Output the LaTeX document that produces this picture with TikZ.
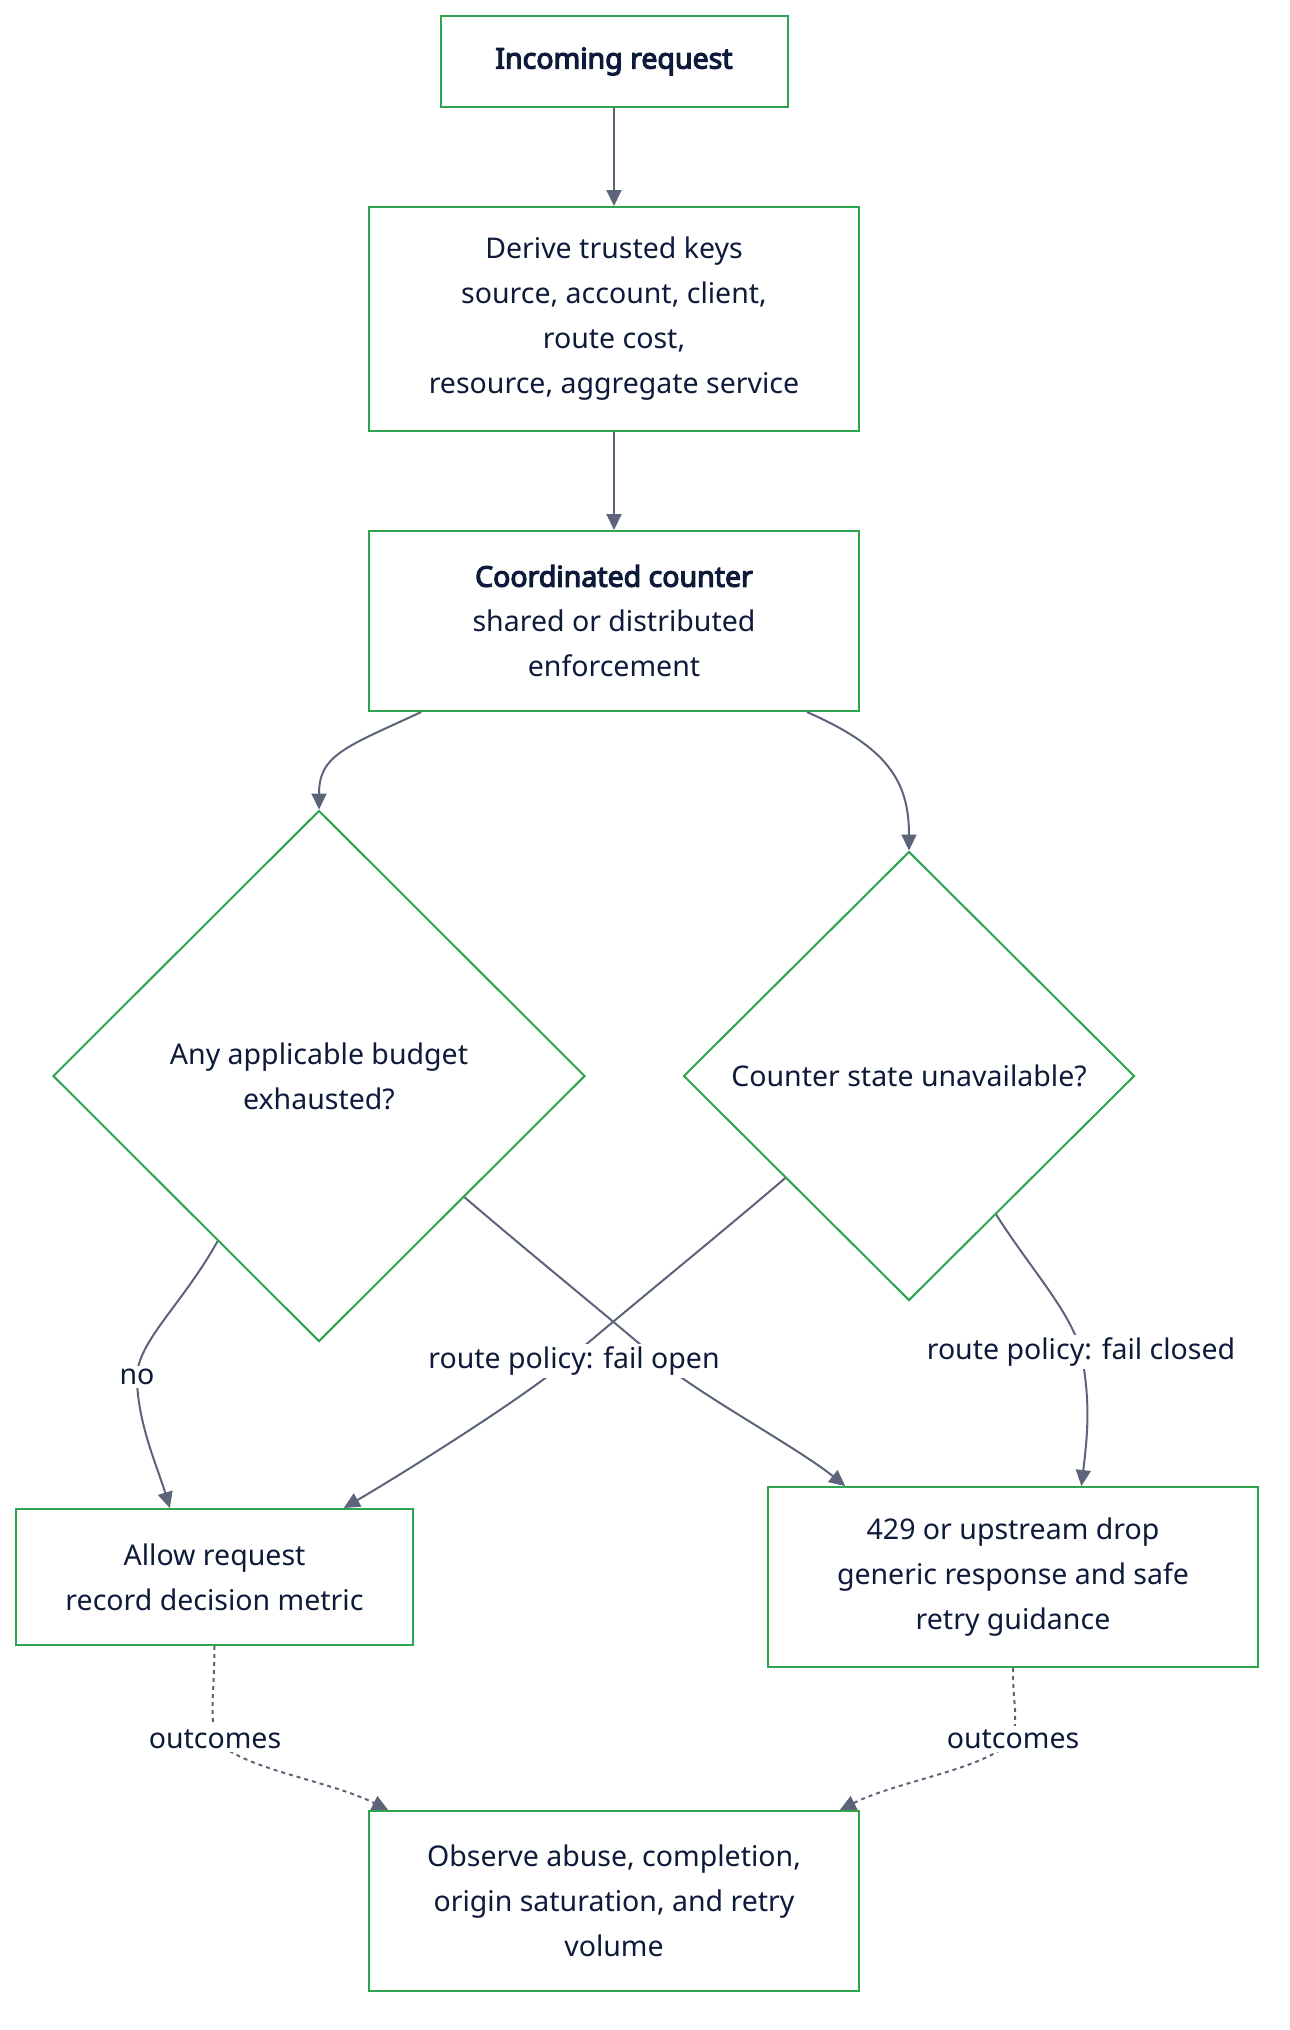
\documentclass[tikz,border=0pt]{standalone}
\usepackage{fontspec}
\setmainfont{Noto Sans}[BoldFont={Noto Sans},BoldFeatures={FakeBold=4}]
\usetikzlibrary{shapes.geometric,arrows.meta,calc}
\definecolor{boxgreen}{HTML}{2DA44E}
\definecolor{txt}{HTML}{0E1A3A}
\definecolor{edgec}{HTML}{5B6478}
\begin{document}
\begin{tikzpicture}[x=1pt,y=-1pt,
  nodefont/.style={font=\fontsize{28.5}{45}\selectfont},
  box/.style={nodefont,draw=boxgreen,line width=2pt,fill=white,text=txt,align=center,inner sep=0pt},
  dia/.style={nodefont,diamond,aspect=1,draw=boxgreen,line width=2pt,fill=white,text=txt,align=center,inner sep=0pt},
  conn/.style={draw=edgec,line width=2pt,-{Triangle[length=16pt,width=15pt]}},
  dconn/.style={conn,dash pattern=on 4pt off 4pt},
  lbl/.style={nodefont,fill=white,text=txt,inner sep=3pt}]
\useasboundingbox (0,0) rectangle (1290,2030);
\fill[white] (0,0) rectangle (1290,2030);

\node[box,minimum width=347pt,minimum height=91pt] (inc) at (614,61.5) {\textbf{Incoming request}};
\node[box,minimum width=490pt,minimum height=224pt] (keys) at (614,319) {Derive trusted keys\\source, account, client,\\route cost,\\resource, aggregate service};
\node[box,minimum width=490pt,minimum height=180pt] (ctr) at (614,621) {\textbf{Coordinated counter}\\shared or distributed\\enforcement};
\node[dia,minimum width=532pt,minimum height=531pt] (bud) at (319,1076) {Any applicable budget\\exhausted?};
\node[dia,minimum width=451pt,minimum height=449pt] (una) at (909,1076) {Counter state unavailable?};
\node[box,minimum width=397pt,minimum height=136pt] (allow) at (214.5,1577) {Allow request\\record decision metric};
\node[box,minimum width=490pt,minimum height=180pt] (rej) at (1013,1577) {429 or upstream drop\\generic response and safe\\retry guidance};
\node[box,minimum width=490pt,minimum height=180pt] (obs) at (614,1901) {Observe abuse, completion,\\origin saturation, and retry\\volume};

\coordinate (nomid) at (137,1377);
\coordinate (openmid) at (568,1360);
\coordinate (ymid) at (656,1358);
\coordinate (closedmid) at (1081,1352);
\coordinate (o1mid) at (215,1739);
\coordinate (o2mid) at (1013,1739);

\draw[conn] (inc) -- (keys);
\draw[conn] (keys) -- (ctr);
\draw[conn] ($(ctr.south west)!0.108!(ctr.south east)$) .. controls +(-75,35) and +(0,-55) .. (bud.north);
\draw[conn] ($(ctr.south west)!0.892!(ctr.south east)$) .. controls +(80,35) and +(0,-70) .. (una.north);

\draw[conn] ($(bud.west)!0.62!(bud.south)$) .. controls +(-35,63) and +(0,-35) .. (nomid) .. controls +(0,45) and +(-12,-40) .. ($(allow.north west)!0.388!(allow.north east)$);
\draw[conn] ($(bud.east)!0.455!(bud.south)$) .. controls +(70,60) and +(-40,-35) .. (ymid) .. controls +(40,35) and +(-50,-40) .. ($(rej.north west)!0.159!(rej.north east)$);
\draw[conn] ($(una.west)!0.453!(una.south)$) .. controls +(-70,60) and +(40,-35) .. (openmid) .. controls +(-40,35) and +(60,-35) .. ($(allow.north west)!0.824!(allow.north east)$);
\draw[conn] ($(una.east)!0.615!(una.south)$) .. controls +(35,55) and +(-10,-40) .. (closedmid) .. controls +(10,50) and +(6,-50) .. ($(rej.north west)!0.639!(rej.north east)$);

\draw[dconn] (allow.south) .. controls +(0,40) and +(-5,-30) .. (o1mid) .. controls +(25,30) and +(-60,-30) .. ($(obs.north west)!0.041!(obs.north east)$);
\draw[dconn] (rej.south) .. controls +(0,40) and +(5,-30) .. (o2mid) .. controls +(-25,30) and +(60,-30) .. ($(obs.north west)!0.959!(obs.north east)$);

\node[lbl] (lno) at (nomid) {no};
\node[lbl] (lopen) at (574,1361) {route policy: fail open};
\node[lbl] (lclosed) at (closedmid) {route policy: fail closed};
\node[lbl] (lo1) at (o1mid) {outcomes};
\node[lbl] (lo2) at (o2mid) {outcomes};
\end{tikzpicture}
\end{document}
